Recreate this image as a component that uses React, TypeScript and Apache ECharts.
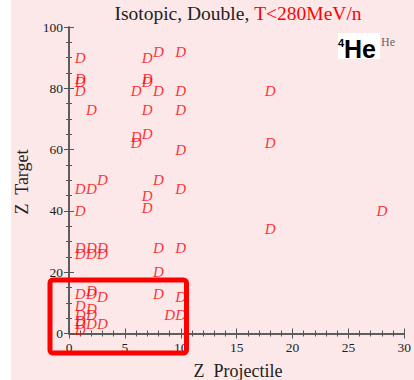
import React, { useEffect, useRef } from "react";
import * as echarts from "echarts";

// Z of projectile and Z of target for each measured (isotopic, double) point
const zProjectile = [
  1, 7, 8, 10,
  1, 1, 7, 7,
  1, 6, 8, 10, 18,
  2, 7, 10,
  6, 6, 7, 10, 18,
  3, 8, 1, 2, 10, 7, 7, 1, 28, 18,
  1, 2, 3, 1, 2, 3, 8, 10,
  8,
  1, 2, 2, 3, 8, 10,
  1, 2, 1, 2, 9, 10, 1,
  1, 2, 3, 1,
];
const zTarget = [
  90, 90, 92, 92,
  83, 82, 83, 82,
  79, 79, 79, 79, 79,
  73, 73, 73,
  64, 62, 65, 60, 62,
  50, 50, 47, 47, 47, 45, 41, 40, 40, 34,
  28, 28, 28, 26, 26, 26, 28, 28,
  20,
  13, 13, 14, 12, 13, 12,
  9, 8, 6, 6, 6, 6, 4,
  3, 3, 3, 1,
];
const xTicks = [0, 5, 10, 15, 20, 25, 30];
const yTicks = [0, 20, 40, 60, 80, 100];

export default function App() {
  const ref = useRef<HTMLDivElement>(null);
  useEffect(() => {
    if (!ref.current) return;
    const chart = echarts.init(ref.current, null, { renderer: "svg" });
    const points = zProjectile.map((x, i) => [x, zTarget[i]]);
    const axisCommon = {
      type: "value" as const,
      axisLine: { show: true, lineStyle: { color: "#555", width: 1.5 } },
      axisTick: { show: true, inside: true, length: 5, lineStyle: { color: "#555" } },
      minorTick: { show: true, length: 3, lineStyle: { color: "#555" } },
      splitLine: { show: false },
      axisLabel: {
        fontFamily: "Liberation Serif",
        fontSize: 13.5,
        color: "#222",
      },
    };
    const xMin = xTicks[0];
    const xMax = xTicks[xTicks.length - 1];
    const xInt = xTicks[1] - xTicks[0];
    const yMin = yTicks[0];
    const yMax = yTicks[yTicks.length - 1];
    const yInt = yTicks[1] - yTicks[0];
    chart.setOption({
      animation: false,
      grid: { left: 69, right: 6, top: 27, bottom: 46.5 },
      xAxis: [
        { ...axisCommon, min: xMin, max: xMax, interval: xInt, position: "bottom",
          minorTick: { ...axisCommon.minorTick, splitNumber: 5 },
          axisLabel: { ...axisCommon.axisLabel, margin: 7 } },
        { ...axisCommon, min: xMin, max: xMax, interval: xInt, position: "top",
          minorTick: { ...axisCommon.minorTick, splitNumber: 5 },
          axisLabel: { show: false } },
      ],
      yAxis: [
        { ...axisCommon, min: yMin, max: yMax, interval: yInt, position: "left",
          minorTick: { ...axisCommon.minorTick, splitNumber: 4 },
          axisLabel: { ...axisCommon.axisLabel, margin: 6 } },
        { ...axisCommon, min: yMin, max: yMax, interval: yInt, position: "right",
          minorTick: { ...axisCommon.minorTick, splitNumber: 4 },
          axisLabel: { show: false } },
      ],
      series: [
        {
          type: "scatter",
          xAxisIndex: 0,
          yAxisIndex: 0,
          data: points,
          symbolSize: 1,
          itemStyle: { color: "rgba(0,0,0,0)" },
          silent: true,
          label: {
            show: true,
            position: "inside",
            formatter: "D",
            color: "#ff0000",
            fontFamily: "Liberation Serif",
            fontStyle: "italic",
            fontSize: 15,
          },
          emphasis: { disabled: true },
        },
      ],
      graphic: [
        {
          type: "text",
          x: 238,
          y: 13,
          style: {
            text: "{a|Isotopic, Double, }{b|T<280MeV/n}",
            align: "center",
            verticalAlign: "middle",
            rich: {
              a: { fontFamily: "Liberation Serif", fontSize: 19.5, fill: "#222", color: "#222" },
              b: { fontFamily: "Liberation Serif", fontSize: 19.5, fill: "#ff0000", color: "#ff0000" },
            },
          },
        },
        {
          type: "text",
          x: 22,
          y: 182,
          rotation: Math.PI / 2,
          style: {
            text: "Z  Target",
            fontFamily: "Liberation Serif",
            fontSize: 18,
            fill: "#222",
            align: "center",
            verticalAlign: "middle",
          },
        },
        {
          type: "text",
          x: 238,
          y: 371,
          style: {
            text: "Z  Projectile",
            fontFamily: "Liberation Serif",
            fontSize: 18,
            fill: "#222",
            align: "center",
            verticalAlign: "middle",
          },
        },
        {
          type: "rect",
          shape: { x: 338, y: 33, width: 42, height: 26 },
          style: { fill: "#fff" },
        },
        {
          type: "text",
          x: 341,
          y: 43,
          style: {
            text: "4",
            fontFamily: "Liberation Sans",
            fontWeight: "bold",
            fontSize: 11,
            fill: "#000",
            align: "center",
            verticalAlign: "middle",
          },
        },
        {
          type: "text",
          x: 344,
          y: 48.5,
          style: {
            text: "He",
            fontFamily: "Liberation Sans",
            fontWeight: "bold",
            fontSize: 25,
            fill: "#000",
            align: "left",
            verticalAlign: "middle",
          },
        },
        {
          type: "text",
          x: 381,
          y: 42,
          style: {
            text: "He",
            fontFamily: "Liberation Serif",
            fontSize: 12,
            fill: "#666",
            align: "left",
            verticalAlign: "middle",
          },
        },
        {
          type: "rect",
          z: 100,
          shape: { x: 50, y: 280, width: 136.5, height: 73, r: 3 },
          style: { fill: "none", stroke: "#ff0000", lineWidth: 5 },
        },
      ],
    });
    return () => chart.dispose();
  }, []);
  return (
    <div
      ref={ref}
      style={{
        position: "absolute",
        left: 0,
        top: 0,
        width: 414,
        height: 380,
        background: "linear-gradient(to right, #ffffff 11px, #fde8e9 11px)",
      }}
    />
  );
}
